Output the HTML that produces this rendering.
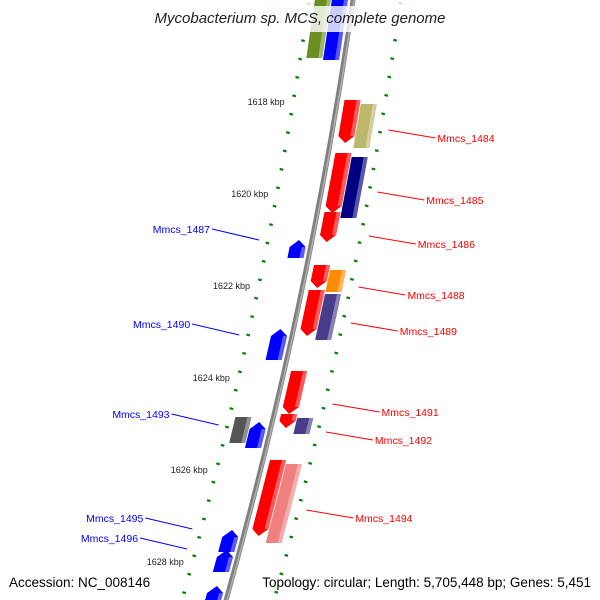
<!DOCTYPE html>
<html><head><meta charset="utf-8">
<style>
html,body{margin:0;padding:0;background:#fff;}
svg{display:block;font-family:"Liberation Sans","DejaVu Sans",sans-serif;}
</style></head>
<body>
<svg id="map" width="600" height="600" viewBox="0 0 600 600">
  <rect width="600" height="600" fill="#fff"/>
  <g id="ticks"></g>
  <g id="backbone"></g>
  <g id="features"></g>
  <g id="labels"></g>
  <rect x="146" y="6" width="308" height="26" fill="#fff" fill-opacity="0.8"/>
  <text x="300" y="23" text-anchor="middle" font-size="15" font-style="italic" fill="#222">Mycobacterium sp. MCS, complete genome</text>
  <text x="9" y="587" font-size="13.5" fill="#000">Accession: NC_008146</text>
  <text x="591" y="587" font-size="13.5" fill="#000" text-anchor="end">Topology: circular; Length: 5,705,448 bp; Genes: 5,451</text>
</svg>
<script>
// feature data (y in px along map, lane: -2..2, strand: 1 = forward, -1 = reverse, 0 = no arrow)
const featStart  = [-20, -20, 100, 104, 153, 157, 212, 240, 265, 270, 290, 294, 329, 371, 414, 418, 417, 422, 460, 464, 530, 550, 586];
const featEnd    = [58, 60, 143, 148, 213, 218, 242, 258, 288, 292, 336, 340, 360, 414, 428, 434, 443, 448, 536, 543, 552, 572, 610];
const featLane   = [-2, -1, 1, 2, 1, 2, 1, -1, 1, 2, 1, 2, -1, 1, 1, 2, -2, -1, 1, 2, -1, -1, -1];
const featColor  = ["#6b8e23","#0000ff","#ff0000","#bdb76b","#ff0000","#000080","#ff0000","#0000ff","#ff0000","#ff8c00","#ff0000","#483d8b","#0000ff","#ff0000","#ff0000","#483d8b","#555555","#0000ff","#ff0000","#f08080","#0000ff","#0000ff","#0000ff"];
const featStrand = [0, 0, 1, 0, 1, 0, 1, -1, 1, 0, 1, 0, -1, 1, 1, 0, 0, -1, 1, 0, -1, -1, -1];
// tick data
const tickKbp = [1616, 1618, 1620, 1622, 1624, 1626, 1628];
// labels
const labelText = ["Mmcs_1484","Mmcs_1485","Mmcs_1486","Mmcs_1488","Mmcs_1489","Mmcs_1491","Mmcs_1492","Mmcs_1494","Mmcs_1487","Mmcs_1490","Mmcs_1493","Mmcs_1495","Mmcs_1496"];
const labelY    = [130, 192, 236, 287, 323, 404, 432, 510, 240, 335, 425, 529, 549];
const labelSide = [1, 1, 1, 1, 1, 1, 1, 1, -1, -1, -1, -1, -1];

const NS = "http://www.w3.org/2000/svg";
function bx(y){ return 353 - 0.1437*y - 0.000113*y*y; }
function laneOff(l){ return l===0?0:(l>0 ? (l===1?15:32) : (l===-1?-13:-30)); }
function kbpY(k){ return 105 + (k-1618)*46; }
function mk(tag, attrs, parent){
  const e = document.createElementNS(NS, tag);
  for (const k in attrs) e.setAttribute(k, attrs[k]);
  parent.appendChild(e); return e;
}
function shade(hex, f){
  const n = parseInt(hex.slice(1),16);
  let r=n>>16,g=(n>>8)&255,b=n&255;
  r=Math.round(r+(255-r)*f); g=Math.round(g+(255-g)*f); b=Math.round(b+(255-b)*f);
  return "rgb("+r+","+g+","+b+")";
}

// backbone
const bb = document.getElementById("backbone");
let pts = [];
for (let y=-10; y<=610; y+=10) pts.push(bx(y).toFixed(1)+","+y);
const bl = mk("polyline",{points:pts.join(" "),fill:"none",stroke:"#808080","stroke-width":5},bb);


const bl2 = mk("polyline",{points:pts.map(p=>{const a=p.split(",");return (+a[0]+1)+","+a[1];}).join(" "),fill:"none",stroke:"#b0b0b0","stroke-width":1.5},bb);



// ticks
const tg = document.getElementById("ticks");
for (let k=1615; k<=1629.5; k+=0.4){
  const kk = Math.round(k*10)/10;
  const major = Math.abs(kk - Math.round(kk/2)*2) < 0.01;
  [[-44,0],[48,18]].forEach(([off,dy])=>{
    const y = kbpY(kk)+dy;
    if (y<-5||y>605) return;
    const x = bx(y)+off;
    const len = major?9:3.5;
    const t = mk("line",{x1:x-len/2,y1:y-len*0.13,x2:x+len/2,y2:y+len*0.13,stroke:"#008000","stroke-width":2.2},tg);
    if (y<32) t.setAttribute("stroke-opacity","0.2");
    
    
  });
}
tickKbp.forEach(k=>{
  const y = kbpY(k);
  const x = bx(y)-52;
  const t = mk("text",{x:x,y:y,"text-anchor":"end","font-size":"9",fill:"#222"},tg);
  if (y<32) t.setAttribute("fill-opacity","0.25");
  t.textContent = k+" kbp";
  
  
});

// features
const fg = document.getElementById("features");
for (let i=0;i<featStart.length;i++){
  const y0=featStart[i], y1=featEnd[i], d=laneOff(featLane[i]);
  const w=8, tip=7;
  const xa=bx(y0)+d, xb=bx(y1)+d;
  let p;
  if (featStrand[i]===1){
    p=[[xa-w,y0],[xa+w,y0],[bx(y1-tip)+d+w,y1-tip],[xb,y1],[bx(y1-tip)+d-w,y1-tip]];
  } else if (featStrand[i]===-1){
    p=[[bx(y0+tip)+d-w,y0+tip],[xa,y0],[bx(y0+tip)+d+w,y0+tip],[xb+w,y1],[xb-w,y1]];
  } else {
    p=[[xa-w,y0],[xa+w,y0],[xb+w,y1],[xb-w,y1]];
  }
  const poly = mk("polygon",{points:p.map(q=>q[0].toFixed(1)+","+q[1]).join(" "),fill:featColor[i]},fg);
  
  
  const h0=y0+(featStrand[i]===-1?tip:0), h1=y1-(featStrand[i]===1?tip:0);
  const hs = mk("polygon",{points:[[bx(h0)+d+w-4,h0],[bx(h0)+d+w,h0],[bx(h1)+d+w,h1],[bx(h1)+d+w-4,h1]].map(q=>q[0].toFixed(1)+","+q[1]).join(" "),fill:shade(featColor[i],0.35)},fg);
  
  
}

// labels
const lg = document.getElementById("labels");
for (let i=0;i<labelText.length;i++){
  const y=labelY[i], s=labelSide[i];
  const col = s>0?"#ff0000":"#0000ff";
  let x1,x2,y2;
  if (s>0){ x1=bx(y)+56; x2=x1+47; y2=y+8; }
  else { x1=bx(y)-53; x2=x1-47; y2=y-11; }
  const ln = mk("line",{x1:x1,y1:y,x2:x2,y2:y2,stroke:col,"stroke-width":1},lg);
  
  
  const t = mk("text",{x:x2+(s>0?2:-2),y:y2+4,"text-anchor":s>0?"start":"end","font-size":"10.5",fill:col},lg);
  t.textContent = labelText[i];
  
  
}
</script>
</body></html>
